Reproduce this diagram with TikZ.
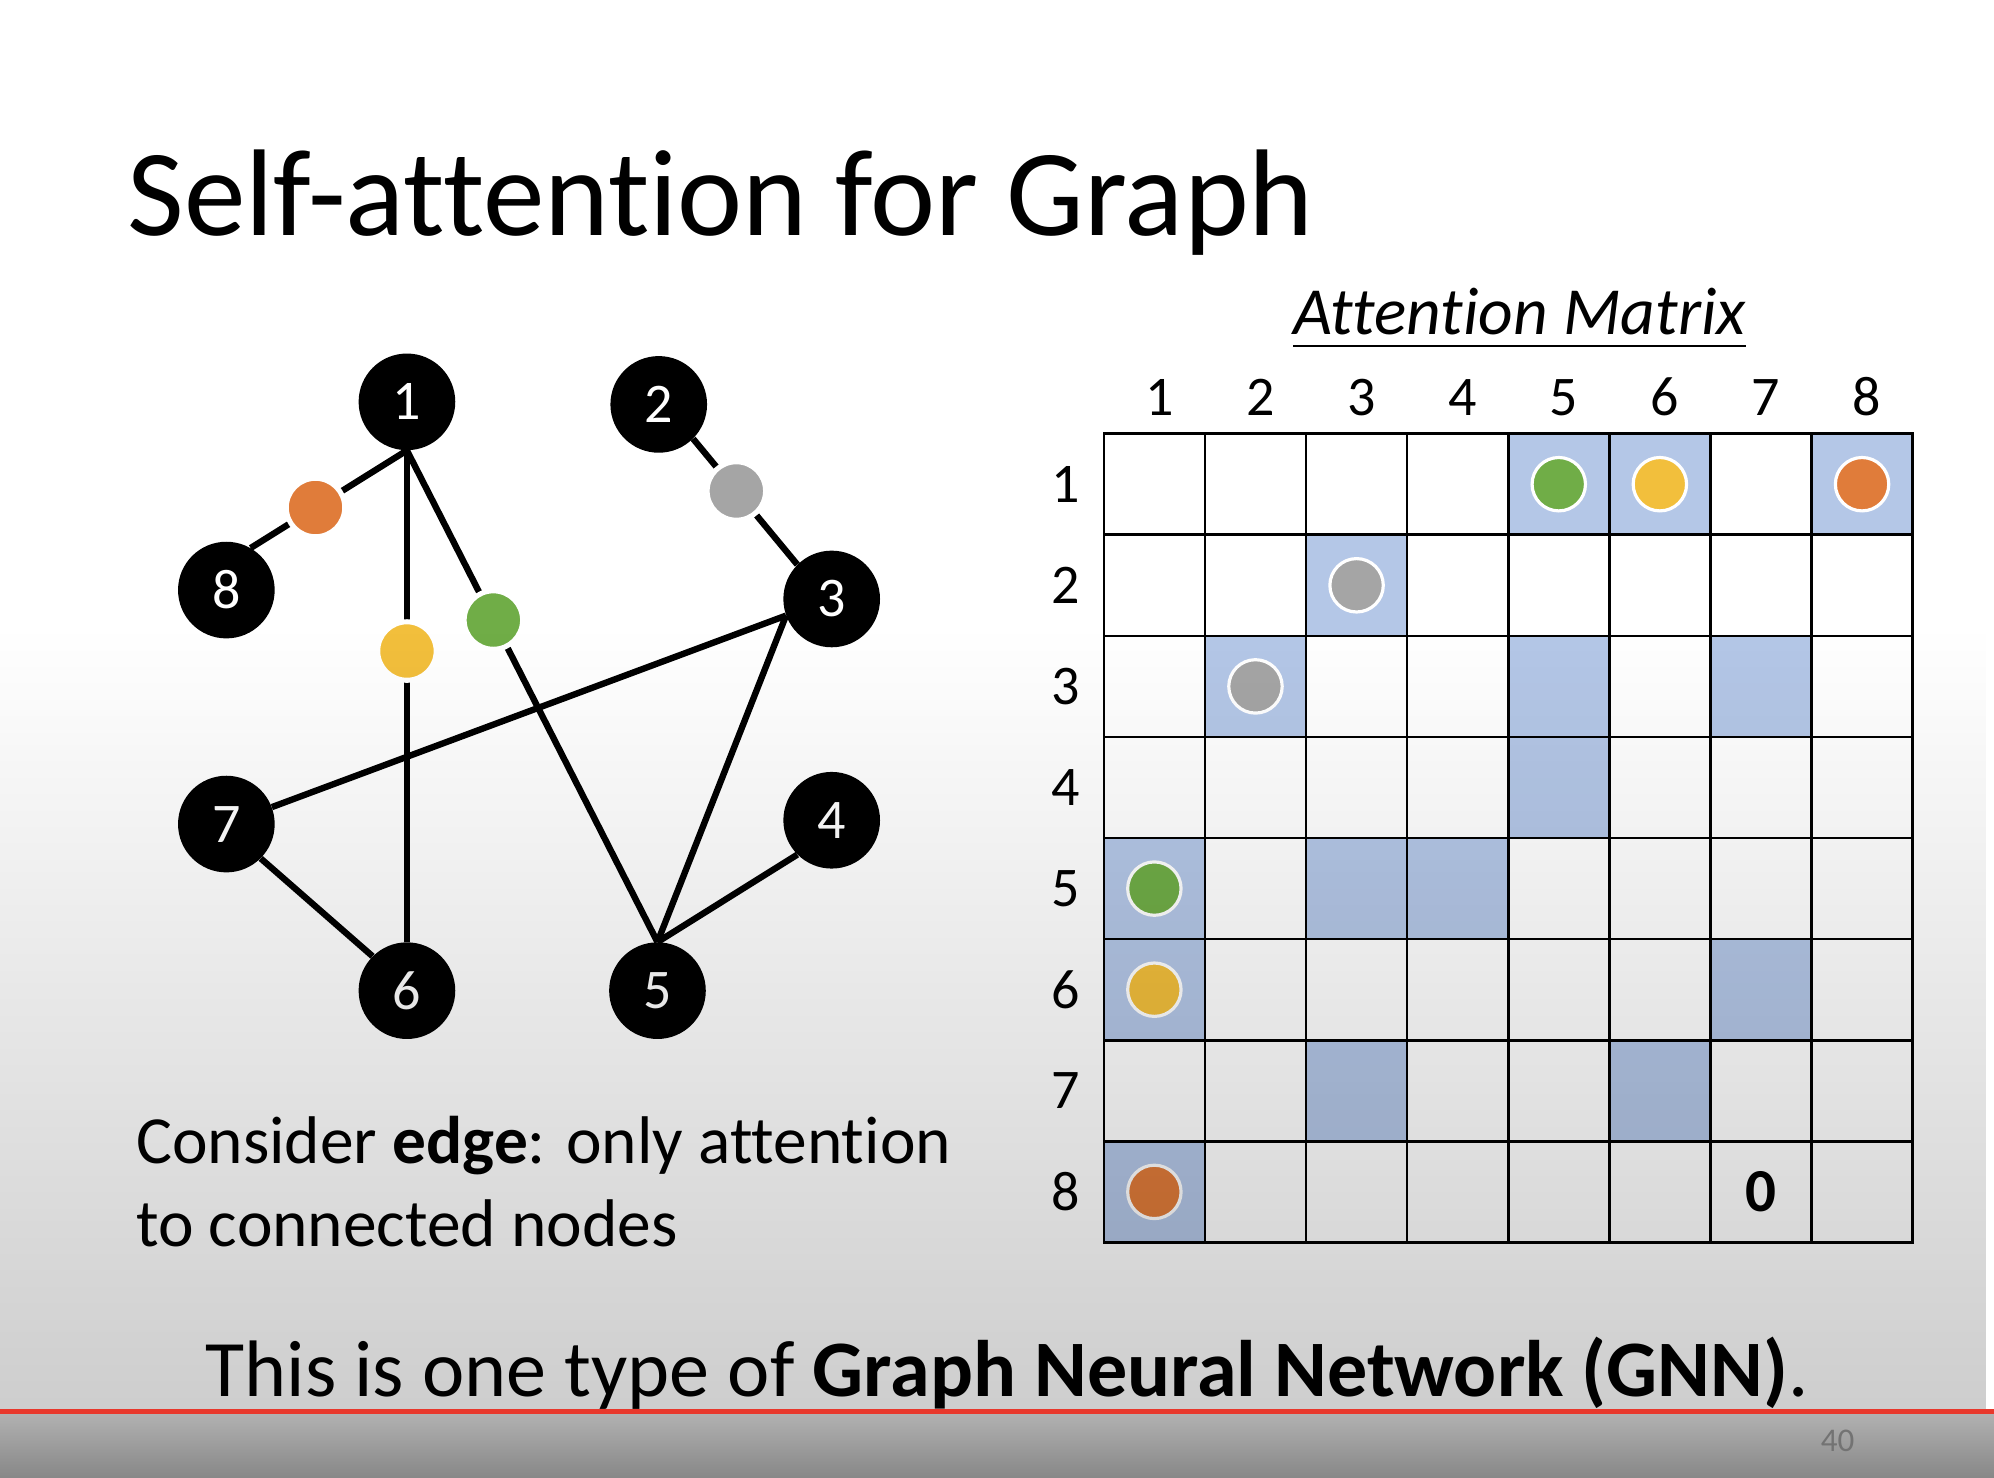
\documentclass[tikz,border=0pt]{standalone}
\usepackage{fontspec}
\setmainfont[Ligatures=NoCommon]{Carlito}
\usepackage{tikz}
\usetikzlibrary{
	positioning,
	matrix,
	fadings
}
\definecolor{cellblue}{HTML}{B4C7E7}
\definecolor{dotorange}{HTML}{E07C3A}
\definecolor{dotyellow}{HTML}{F2BF3C}
\definecolor{dotgreen}{HTML}{70AD47}
\definecolor{dotgray}{HTML}{A5A5A5}
\definecolor{barred}{HTML}{E8382C}
\tikzfading[name=dimfade, top color=transparent!100, bottom color=transparent!0]

\begin{document}
\begin{tikzpicture}[
				x=1pt, y=-1pt,
				gnode/.style={
					circle, fill=black, text=white,
					minimum size=76pt, inner sep=0pt,
					font=\fontsize{44}{44}\selectfont
				},
				edge/.style={line width=5pt, black},
				gdot/.style={
					circle, draw=white, line width=4pt,
					minimum size=46pt, inner sep=0pt
				},
				mdot/.style={
					circle, draw=white, line width=2.5pt,
					minimum size=42pt, inner sep=0pt
				},
				cell/.style={
					rectangle, draw, line width=2pt, anchor=center,
					minimum size=79.5pt, inner sep=0pt, outer sep=0pt
				},
				oncell/.style={cell, fill=cellblue},
				idx/.style={inner sep=0pt, font=\fontsize{44}{44}\selectfont}
				]
				\useasboundingbox (0,0) rectangle (1568,1162);
				\fill[white] (0,0) rectangle (1568,1162);
				
				% title
				\node[anchor=base west, inner sep=0pt, font=\fontsize{97}{110}\selectfont] (title) at (100,185) {Self-attention for Graph};
				
				% graph nodes
				\node[gnode] (n1) at (320,316) {1};
				\node[gnode] (n2) at (518,318) {2};
				\node[gnode] (n3) at (654,471) {3};
				\node[gnode] (n4) at (654,645) {4};
				\node[gnode] (n5) at (517,779) {5};
				\node[gnode] (n6) at (320,779) {6};
				\node[gnode] (n7) at (178,648) {7};
				\node[gnode] (n8) at (178,464) {8};
				
				% edges (the coloured ones carry a dot)
				\draw[edge] (n1.south) -- node[gdot, fill=dotorange, pos=0.585] (d18) {} (n8.60);
				\draw[edge] (n1.south) -- node[gdot, fill=dotyellow, pos=0.408] (d16) {} (n6.north);
				\draw[edge] (n1.south) -- node[gdot, fill=dotgreen, pos=0.345] (d15) {} (n5.north);
				\draw[edge] (n2.south east) -- node[gdot, fill=dotgray, pos=0.415] (d23) {} (n3.north west);
				\draw[edge] (n7) -- (n3.200);
				\draw[edge] (n3.200) -- (n5.north);
				\draw[edge] (n4.south west) -- (n5.north);
				\draw[edge] (n7.south east) -- (n6.north west);
				
				% matrix title
				\node[anchor=base, inner sep=0pt, font=\fontsize{53}{60}\selectfont\itshape] (amtitle) at (1195,263) {Attention Matrix};
				\draw[line width=2pt] ([yshift=-9pt]amtitle.base west) -- ([yshift=-9pt]amtitle.base east);
				
				% attention matrix
				\matrix (att) [matrix of nodes, nodes in empty cells,
					nodes={cell}, column sep=-2pt, row sep=-2pt] at (1186,659) {
					 & & & & |[oncell]| & |[oncell]| & & |[oncell]| \\
					 & & |[oncell]| & & & & & \\
					 & |[oncell]| & & & |[oncell]| & & |[oncell]| & \\
					 & & & & |[oncell]| & & & \\
					|[oncell]| & & |[oncell]| & |[oncell]| & & & & \\
					|[oncell]| & & & & & & |[oncell]| & \\
					 & & |[oncell]| & & & |[oncell]| & & \\
					|[oncell]| & & & & & & |[font=\fontsize{48}{48}\selectfont\bfseries]| 0 & \\
				};
				
				% dots in the matrix
				\node[mdot, fill=dotgreen] (m15) at (att-1-5) {};
				\node[mdot, fill=dotyellow] (m16) at (att-1-6) {};
				\node[mdot, fill=dotorange] (m18) at (att-1-8) {};
				\node[mdot, fill=dotgray] (m23) at (att-2-3) {};
				\node[mdot, fill=dotgray] (m32) at (att-3-2) {};
				\node[mdot, fill=dotgreen] (m51) at (att-5-1) {};
				\node[mdot, fill=dotyellow] (m61) at (att-6-1) {};
				\node[mdot, fill=dotorange] (m81) at (att-8-1) {};
				
				% column numbers
				\node[idx, xshift=4pt, above=14pt of att-1-1] (c1) {1};
				\node[idx, xshift=4pt, above=14pt of att-1-2] (c2) {2};
				\node[idx, xshift=4pt, above=14pt of att-1-3] (c3) {3};
				\node[idx, xshift=4pt, above=14pt of att-1-4] (c4) {4};
				\node[idx, xshift=4pt, above=14pt of att-1-5] (c5) {5};
				\node[idx, xshift=4pt, above=14pt of att-1-6] (c6) {6};
				\node[idx, xshift=4pt, above=14pt of att-1-7] (c7) {7};
				\node[idx, xshift=4pt, above=14pt of att-1-8] (c8) {8};
				
				% row numbers
				\node[idx, left=19pt of att-1-1] (r1) {1};
				\node[idx, left=19pt of att-2-1] (r2) {2};
				\node[idx, left=19pt of att-3-1] (r3) {3};
				\node[idx, left=19pt of att-4-1] (r4) {4};
				\node[idx, left=19pt of att-5-1] (r5) {5};
				\node[idx, left=19pt of att-6-1] (r6) {6};
				\node[idx, left=19pt of att-7-1] (r7) {7};
				\node[idx, left=19pt of att-8-1] (r8) {8};
				
				% remark
				\node[anchor=base west, align=left, inner sep=0pt, font=\fontsize{53}{65}\selectfont] (remark) at (107,980) {Consider \textbf{edge}: only attention\\to connected nodes};
				
				% bottom line
				\node[anchor=base, inner sep=0pt, font=\fontsize{63}{70}\selectfont] (gnn) at (792,1098) {This is one type of \textbf{Graph Neural Network (GNN)}.};
				
				% dimming towards the bottom
				\fill[black, fill opacity=0.26, path fading=dimfade] (0,495) rectangle (1568,1315);
				\shade[top color=black!30, bottom color=black!47] (0,1110) rectangle (1568,1162);
				\draw[barred, line width=4.5pt] (0,1110) -- (1568,1110);
				\node[text=black!55, font=\fontsize{26}{26}\selectfont] (pgno) at (1445,1133) {40};
			\end{tikzpicture}
\end{document}
